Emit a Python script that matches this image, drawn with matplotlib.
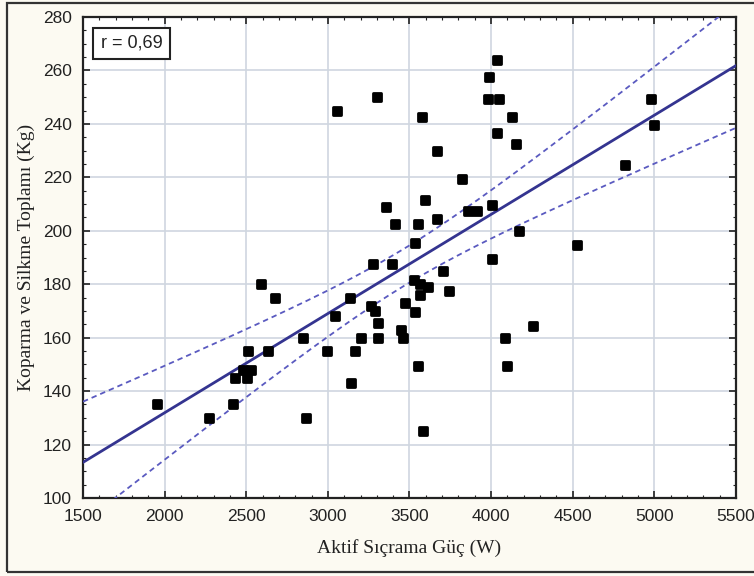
import numpy as np
import matplotlib
matplotlib.use("Agg")
import matplotlib.pyplot as plt
from matplotlib.markers import MarkerStyle
from matplotlib.ticker import MultipleLocator
from matplotlib.patches import Rectangle

# Data
power_w = [1955, 2272, 2421, 2433, 2503, 2482, 2527, 2510, 2631, 2588,
           2678, 2850, 2864, 2995, 3042, 3133, 3139, 3166, 3200, 3262,
           3289, 3305, 3305, 3056, 3303, 3578, 3670, 3356, 3597, 3411,
           3550, 3670, 3534, 3278, 3394, 3527, 3564, 3611, 3564, 3742,
           3703, 3472, 3534, 3448, 3458, 3552, 3580, 4038, 3989, 3983,
           4051, 4128, 4036, 4152, 3823, 3860, 3915, 4005, 4172, 4004,
           4820, 4977, 4998, 4528, 4087, 4097, 4258]
total_kg = [135, 130, 135, 145, 145, 148, 148, 155, 155, 180,
            175, 160, 130, 155, 168, 175, 143, 155, 160, 172,
            170, 165.5, 160, 245, 250, 242.5, 230, 209, 211.5, 202.5,
            202.5, 204.5, 195.5, 187.5, 187.5, 181.5, 180, 178.8, 176, 177.5,
            185, 172.8, 169.7, 162.8, 160, 149.5, 125, 264, 257.5, 249.5,
            249.5, 242.5, 236.5, 232.5, 219.5, 207.5, 207.5, 209.7, 199.8, 189.5,
            224.6, 249.5, 239.6, 194.5, 159.7, 149.3, 164.5]
x_ticks = [1500, 2000, 2500, 3000, 3500, 4000, 4500, 5000, 5500]
y_ticks = [100, 120, 140, 160, 180, 200, 220, 240, 260, 280]
r_label = "r = 0,69"
x_label = "Aktif Sıçrama Güç (W)"
y_label = "Koparma ve Silkme Toplamı (Kg)"

x = np.array(power_w, dtype=float)
y = np.array(total_kg, dtype=float)
n = len(x)
slope, intercept = np.polyfit(x, y, 1)
xs = np.linspace(x_ticks[0], x_ticks[-1], 300)
yhat = intercept + slope * xs
resid = y - (intercept + slope * x)
s = np.sqrt(np.sum(resid ** 2) / (n - 2))
sxx = np.sum((x - x.mean()) ** 2)
t = 1.997
half = t * s * np.sqrt(1.0 / n + (xs - x.mean()) ** 2 / sxx)

fig = plt.figure(figsize=(7.54, 5.76), dpi=100)
fig.patch.set_facecolor("#fcfaf2")
ax = fig.add_axes([83 / 754, 1 - 498 / 576, (736 - 83) / 754, (498 - 17) / 576])
ax.set_facecolor("white")

ax.grid(True, which="major", color="#cfd6e0", linewidth=1.2)
ax.set_axisbelow(True)

ax.plot(xs, yhat, color="#343490", linewidth=2.0, zorder=3)
ax.plot(xs, yhat + half, color="#5a5ac0", linewidth=1.3, linestyle=(0, (3, 2.2)), zorder=3)
ax.plot(xs, yhat - half, color="#5a5ac0", linewidth=1.3, linestyle=(0, (3, 2.2)), zorder=3)

mk = MarkerStyle("s", joinstyle="round")
ax.plot(x, y, linestyle="none", marker=mk, markersize=5.8, markerfacecolor="black",
        markeredgecolor="black", markeredgewidth=2.0, zorder=4)

ax.set_xlim(x_ticks[0], x_ticks[-1])
ax.set_ylim(y_ticks[0], y_ticks[-1])
ax.set_xticks(x_ticks)
ax.set_yticks(y_ticks)
ax.xaxis.set_minor_locator(MultipleLocator(100))
ax.yaxis.set_minor_locator(MultipleLocator(5))
ax.tick_params(which="both", direction="in", top=True, right=True, color="#222222")
ax.tick_params(which="major", length=5, width=1.2, labelsize=12.5)
ax.tick_params(axis="x", which="major", pad=8)
ax.tick_params(axis="y", which="major", pad=8)
ax.tick_params(which="minor", length=2.5, width=0.8)
for lab in ax.get_xticklabels() + ax.get_yticklabels():
    lab.set_fontfamily("Liberation Sans")
    lab.set_color("#222222")
for sp in ax.spines.values():
    sp.set_linewidth(1.6)
    sp.set_color("#222222")

ax.set_xlabel(x_label, fontfamily="Liberation Serif", fontsize=14, labelpad=11, color="#222222")
ax.set_ylabel(y_label, fontfamily="Liberation Serif", fontsize=14, labelpad=6, color="#222222")

ax.text(0.027, 0.945, r_label, transform=ax.transAxes, fontfamily="Liberation Sans",
        fontsize=13, va="center", ha="left", color="#222222",
        bbox=dict(boxstyle="square,pad=0.4", facecolor="white", edgecolor="#222222", linewidth=1.5),
        zorder=5)

fig.patches.append(Rectangle((7 / 754, 1 - 572 / 576), 1.2, (572 - 3) / 576,
                             transform=fig.transFigure, fill=False,
                             edgecolor="#333333", linewidth=1.6))

fig.savefig("out.png", dpi=100, facecolor=fig.get_facecolor())
